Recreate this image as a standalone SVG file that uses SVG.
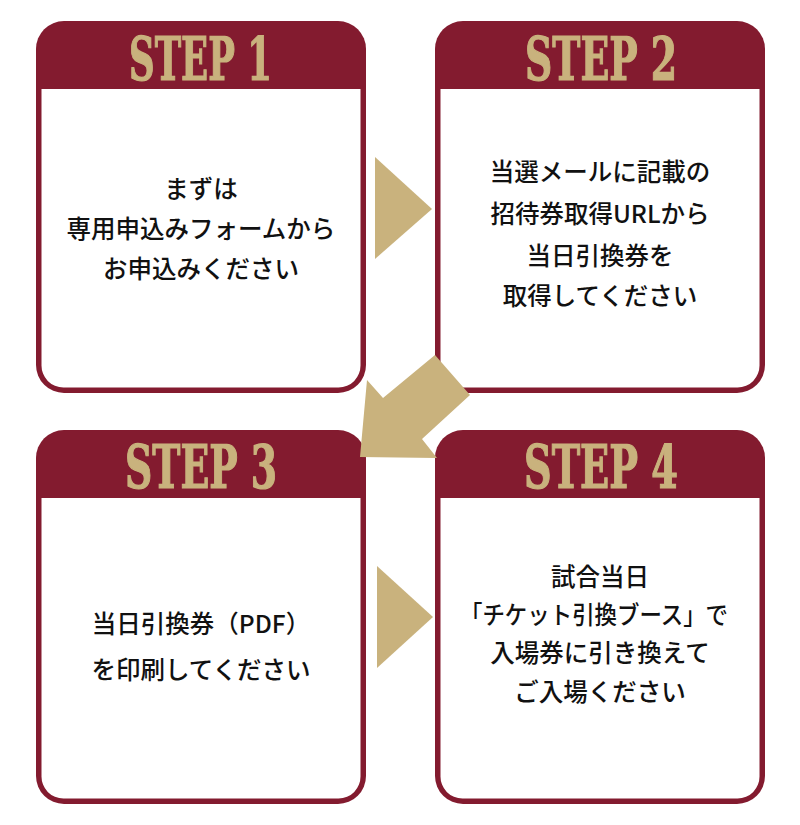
<svg xmlns="http://www.w3.org/2000/svg" width="800" height="825" viewBox="0 0 800 825">
<style>
.frame{fill:#831B2F}
.body{fill:#FFFFFF}
.step{font-family:"DejaVu Serif","Liberation Serif",serif;font-weight:bold;font-stretch:condensed;font-size:59px;fill:#C9B27D;stroke:#C9B27D;stroke-width:1.2px}
.txt{font-family:"Noto Sans CJK JP","Noto Sans",sans-serif;font-weight:500;font-size:24.5px;fill:#111111;text-anchor:middle}
.arrow{fill:#C9B27D}
</style>
<rect width="800" height="825" fill="#FFFFFF"/>
<g id="step1">
<rect class="frame" x="36" y="21" width="330" height="372" rx="28"/>
<path class="body" d="M41.5,89 H360.5 V365 A22,22 0 0 1 338.5,387.5 H63.5 A22,22 0 0 1 41.5,365 Z"/>
<text class="step" x="129" y="80" textLength="143" lengthAdjust="spacingAndGlyphs">STEP 1</text>
<text class="txt" x="201" y="198">まずは</text>
<text class="txt" x="201" y="238">専用申込みフォームから</text>
<text class="txt" x="201" y="278">お申込みください</text>
</g>
<g id="step2">
<rect class="frame" x="435" y="21" width="330" height="372" rx="28"/>
<path class="body" d="M440.5,89 H759.5 V365 A22,22 0 0 1 737.5,387.5 H462.5 A22,22 0 0 1 440.5,365 Z"/>
<text class="step" x="525" y="80" textLength="152" lengthAdjust="spacingAndGlyphs">STEP 2</text>
<text class="txt" x="600" y="181">当選メールに記載の</text>
<text class="txt" x="600" y="223">招待券取得URLから</text>
<text class="txt" x="600" y="265">当日引換券を</text>
<text class="txt" x="600" y="305">取得してください</text>
</g>
<g id="step3">
<rect class="frame" x="36" y="430" width="330" height="374" rx="28"/>
<path class="body" d="M41.5,498 H360.5 V776 A22,22 0 0 1 338.5,798.5 H63.5 A22,22 0 0 1 41.5,776 Z"/>
<text class="step" x="125" y="488" textLength="152" lengthAdjust="spacingAndGlyphs">STEP 3</text>
<text class="txt" x="201" y="633">当日引換券（PDF）</text>
<text class="txt" x="201" y="679">を印刷してください</text>
</g>
<g id="step4">
<rect class="frame" x="435" y="430" width="330" height="374" rx="28"/>
<path class="body" d="M440.5,498 H759.5 V776 A22,22 0 0 1 737.5,798.5 H462.5 A22,22 0 0 1 440.5,776 Z"/>
<text class="step" x="524" y="488" textLength="154" lengthAdjust="spacingAndGlyphs">STEP 4</text>
<text class="txt" x="600" y="586">試合当日</text>
<text class="txt" x="460" y="624" style="text-anchor:start" textLength="268" lengthAdjust="spacingAndGlyphs">「チケット引換ブース」で</text>
<text class="txt" x="600" y="662">入場券に引き換えて</text>
<text class="txt" x="600" y="701">ご入場ください</text>
</g>
<g id="connectors">
<polygon class="arrow" points="375,157 432,209 375,259"/>
<polygon class="arrow" points="360,457 367,380 383,398 435,355 470,395 422,439 437,458"/>
<polygon class="arrow" points="377,566 433,617 377,668"/>
</g>
</svg>
